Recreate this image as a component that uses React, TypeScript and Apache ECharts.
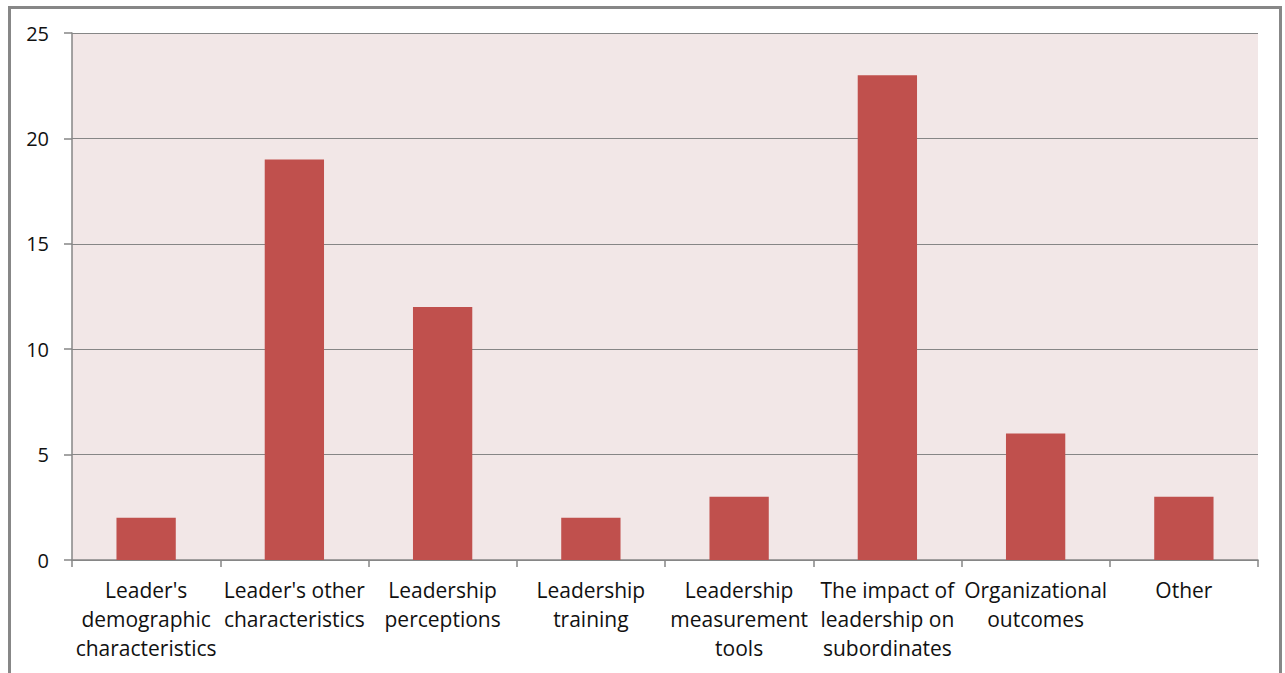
import React, { useEffect, useRef } from "react";
import * as echarts from "echarts";

const categories = [
  "Leader's demographic characteristics",
  "Leader's other characteristics",
  "Leadership perceptions",
  "Leadership training",
  "Leadership measurement tools",
  "The impact of leadership on subordinates",
  "Organizational outcomes",
  "Other",
];
const categoryLines = [
  "Leader's\ndemographic\ncharacteristics",
  "Leader's other\ncharacteristics",
  "Leadership\nperceptions",
  "Leadership\ntraining",
  "Leadership\nmeasurement\ntools",
  "The impact of\nleadership on\nsubordinates",
  "Organizational\noutcomes",
  "Other",
];
const values = [2, 19, 12, 2, 3, 23, 6, 3];
const yTicks = { min: 0, max: 25, interval: 5 };

export default function App() {
  const ref = useRef<HTMLDivElement>(null);
  useEffect(() => {
    if (!ref.current) return;
    const chart = echarts.init(ref.current, undefined, { renderer: "svg" });
    const font = "'Open Sans', Lato, sans-serif";
    chart.setOption({
      animation: false,
      backgroundColor: "#ffffff",
      textStyle: { fontFamily: font },
      graphic: [
        {
          type: "rect",
          shape: { x: 9.5, y: 7.5, width: 1271, height: 700 },
          style: { fill: "none", stroke: "#878787", lineWidth: 3 },
          silent: true,
        },
      ],
      grid: {
        left: 72,
        top: 33,
        right: 27,
        bottom: 113,
        show: true,
        backgroundColor: "#F2E7E7",
        borderWidth: 0,
      },
      xAxis: {
        type: "category",
        data: categories,
        boundaryGap: true,
        axisLine: { show: true, lineStyle: { color: "#868686", width: 1.5 } },
        axisTick: { show: true, length: 7, alignWithLabel: false, lineStyle: { color: "#868686", width: 1.5 } },
        axisLabel: {
          interval: 0,
          margin: 15,
          color: "#111",
          fontSize: 21,
          lineHeight: 29,
          fontFamily: font,
          formatter: (_v: string, i: number) => categoryLines[i],
        },
        splitLine: { show: false },
      },
      yAxis: {
        type: "value",
        min: yTicks.min,
        max: yTicks.max,
        interval: yTicks.interval,
        axisLine: { show: true, lineStyle: { color: "#868686", width: 1.5 } },
        axisTick: { show: true, length: 8, inside: false, lineStyle: { color: "#868686", width: 1.5 } },
        axisLabel: { color: "#111", fontSize: 20, margin: 23, fontFamily: font },
        splitLine: { show: true, lineStyle: { color: "#868686", width: 1.2 } },
      },
      series: [
        {
          type: "bar",
          data: values,
          barWidth: "40%",
          itemStyle: { color: "#C0504D" },
        },
      ],
    });
    return () => chart.dispose();
  }, []);
  return (
    <div
      ref={ref}
      style={{ position: "fixed", left: 0, top: 0, width: 1285, height: 673 }}
    />
  );
}
